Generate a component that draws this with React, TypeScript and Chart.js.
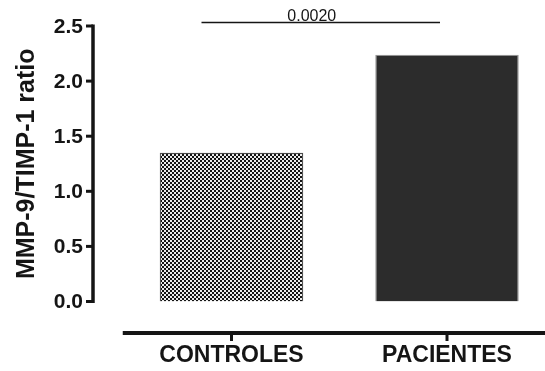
import React, { useEffect, useRef } from "react";
import { Chart, registerables } from "chart.js";

Chart.register(...registerables);

// Groups and their MMP-9/TIMP-1 ratios
const categories = ["CONTROLES", "PACIENTES"];
const ratioValues = [1.35, 2.24];
const yTicks = [0, 0.5, 1.0, 1.5, 2.0, 2.5];
const yTickLabels = ["0.0", "0.5", "1.0", "1.5", "2.0", "2.5"];
const yTitle = "MMP-9/TIMP-1 ratio";
const pValueLabel = "0.0020";

const W = 560;
const H = 371;
const INK = "#151515";
const FONT = "'Liberation Sans', Arial, Helvetica, sans-serif";

function makeCheckerPattern(): CanvasPattern | string {
  const tile = document.createElement("canvas");
  tile.width = 4;
  tile.height = 4;
  const t = tile.getContext("2d");
  if (!t) return "#777";
  t.fillStyle = "#ececec";
  t.fillRect(0, 0, 4, 4);
  t.fillStyle = "#141414";
  t.fillRect(0, 0, 2, 2);
  t.fillRect(2, 2, 2, 2);
  const ctx = document.createElement("canvas").getContext("2d");
  const p = ctx ? ctx.createPattern(tile, "repeat") : null;
  return p || "#777";
}

// Draws the detached axes, labels and the significance bracket
const axesPlugin = {
  id: "prismAxes",
  afterDraw(chart: any) {
    const { ctx, scales } = chart;
    const x = scales.x;
    const y = scales.y;
    const axisX = 93;
    ctx.save();
    ctx.strokeStyle = INK;
    ctx.fillStyle = INK;

    // y axis line
    ctx.lineWidth = 3.5;
    ctx.beginPath();
    ctx.moveTo(axisX, y.getPixelForValue(2.5) - 1.5);
    ctx.lineTo(axisX, y.getPixelForValue(0) + 1.5);
    ctx.stroke();

    // y ticks and labels
    ctx.font = `bold 21px ${FONT}`;
    ctx.textAlign = "right";
    ctx.textBaseline = "middle";
    yTicks.forEach((v, i) => {
      const py = y.getPixelForValue(v);
      ctx.lineWidth = 3;
      ctx.beginPath();
      ctx.moveTo(axisX - 7, py);
      ctx.lineTo(axisX, py);
      ctx.stroke();
      ctx.fillText(yTickLabels[i], axisX - 10, py + 1);
    });

    // y title
    ctx.save();
    ctx.translate(27, (y.top + y.bottom) / 2);
    ctx.rotate(-Math.PI / 2);
    ctx.font = `bold 25px ${FONT}`;
    ctx.textAlign = "center";
    ctx.textBaseline = "middle";
    ctx.fillText(yTitle, 0, 0);
    ctx.restore();

    // x axis line
    const axisY = 333;
    ctx.lineWidth = 4;
    ctx.beginPath();
    ctx.moveTo(x.left - 1, axisY);
    ctx.lineTo(W, axisY);
    ctx.stroke();

    // x ticks and category labels
    ctx.font = `bold 23px ${FONT}`;
    ctx.textAlign = "center";
    ctx.textBaseline = "middle";
    categories.forEach((c, i) => {
      const px = x.getPixelForValue(i);
      ctx.lineWidth = 3;
      ctx.beginPath();
      ctx.moveTo(px, axisY);
      ctx.lineTo(px, axisY + 8);
      ctx.stroke();
      ctx.fillText(c, px, 356);
    });

    // significance bracket
    const bx0 = x.getPixelForValue(0) - 30;
    const bx1 = x.getPixelForValue(1) - 7;
    const by = 22.5;
    ctx.lineWidth = 1.5;
    ctx.beginPath();
    ctx.moveTo(bx0, by);
    ctx.lineTo(bx1, by);
    ctx.stroke();
    ctx.font = `16px ${FONT}`;
    ctx.textAlign = "center";
    ctx.textBaseline = "alphabetic";
    ctx.fillText(pValueLabel, (bx0 + bx1) / 2 - 9, 20.5);

    ctx.restore();
  },
};

export default function App() {
  const canvasRef = useRef<HTMLCanvasElement | null>(null);

  useEffect(() => {
    const canvas = canvasRef.current;
    if (!canvas) return;
    const chart = new Chart(canvas, {
      type: "bar",
      data: {
        labels: categories,
        datasets: [
          {
            data: ratioValues,
            backgroundColor: [makeCheckerPattern(), "#2c2c2c"],
            borderColor: ["#4a4a4a", "#9a9a9a"],
            borderWidth: 1.2,
            categoryPercentage: 1,
            barPercentage: 0.666,
          },
        ],
      },
      options: {
        responsive: false,
        animation: false,
        events: [],
        layout: {
          padding: { left: 123.75, right: W - 554.75, top: 26, bottom: H - 301.5 },
        },
        plugins: {
          legend: { display: false },
          tooltip: { enabled: false },
          title: { display: false },
        },
        scales: {
          x: { type: "category", offset: true, display: false },
          y: { type: "linear", min: 0, max: 2.5, display: false },
        },
      },
      plugins: [axesPlugin],
    });
    return () => chart.destroy();
  }, []);

  return (
    <div
      style={{
        position: "fixed",
        left: 0,
        top: 0,
        width: 545,
        height: 371,
        overflow: "hidden",
        background: "#fff",
      }}
    >
      <canvas ref={canvasRef} width={W} height={H} style={{ display: "block", width: W, height: H }} />
    </div>
  );
}
